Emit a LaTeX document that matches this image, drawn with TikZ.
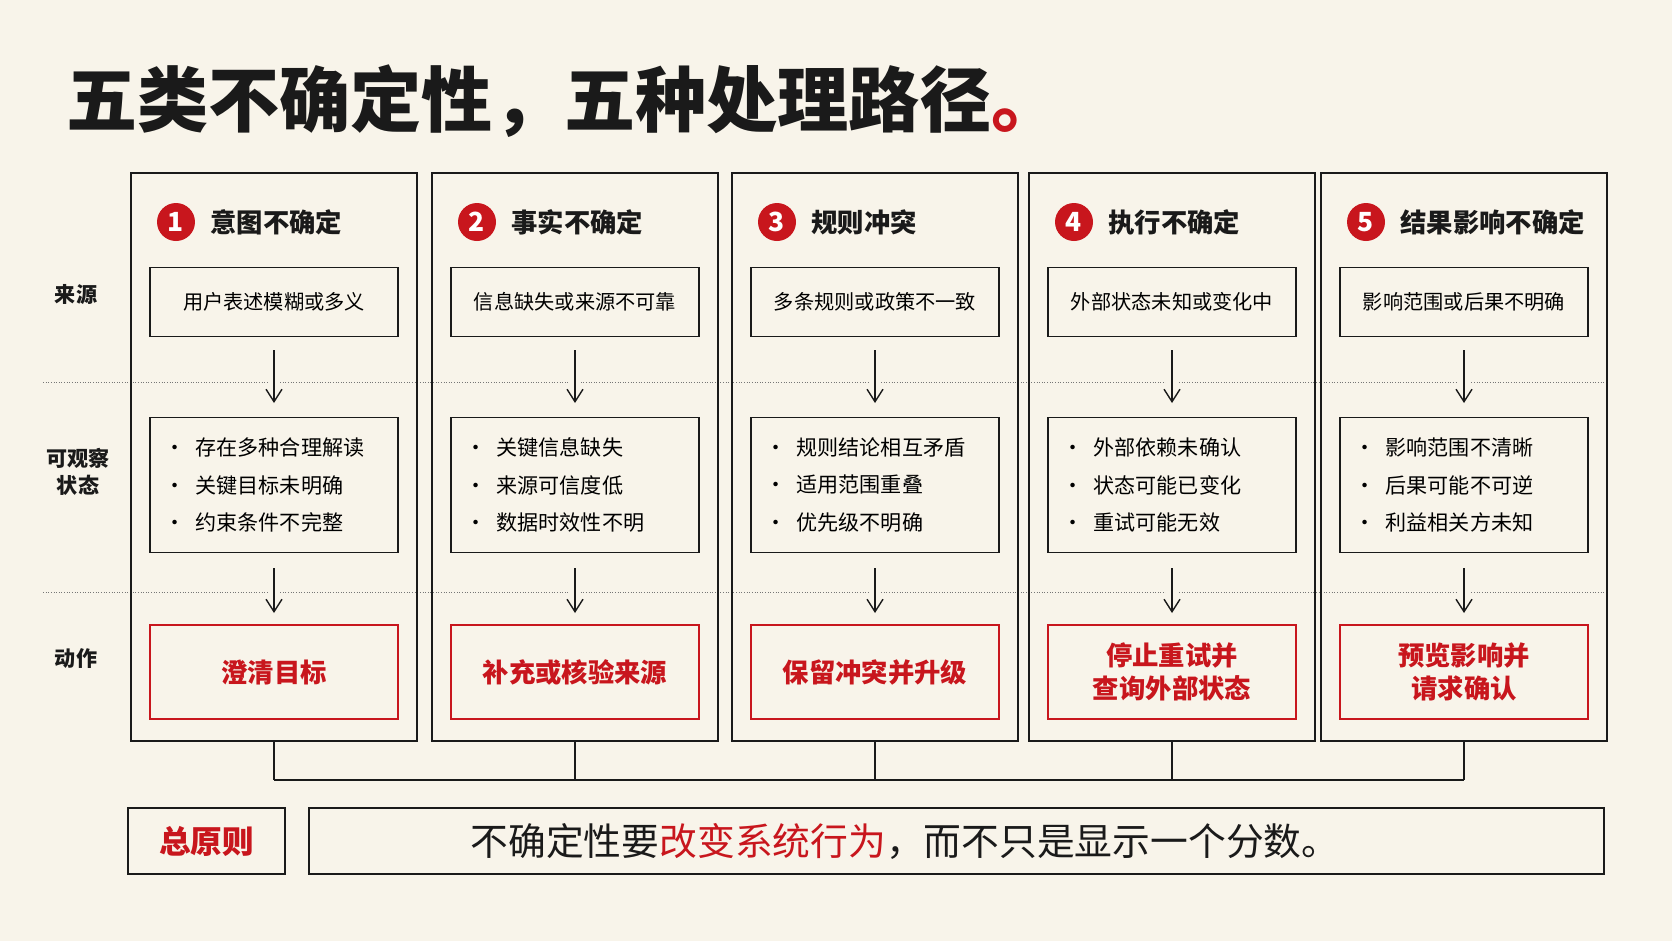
\documentclass[tikz,border=0pt]{standalone}
\usepackage{fontspec}
\setmainfont{Noto Sans CJK SC}
\usetikzlibrary{positioning,arrows.meta}
\definecolor{paper}{HTML}{F8F4EA}
\definecolor{seal}{HTML}{C8161D}
\definecolor{ink}{HTML}{1A1A1A}
\tikzset{
  col/.style={draw=ink, line width=0.9pt, minimum width=5.72cm, minimum height=11.36cm, inner sep=0pt},
  box/.style={draw=ink, line width=0.9pt, fill=paper, minimum width=4.96cm, inner sep=0pt, font=\fontsize{11.5}{14}\selectfont},
  actbox/.style={draw=seal, line width=1pt, fill=paper, minimum width=4.96cm, minimum height=1.88cm, inner sep=0pt, text=seal, align=center, font=\bfseries\fontsize{15}{19}\selectfont},
  num/.style={circle, fill=seal, text=white, minimum size=0.76cm, inner sep=0pt, font=\bfseries\fontsize{15}{15}\selectfont},
  head/.style={font=\bfseries\fontsize{15}{15}\selectfont, text=ink},
  rowlab/.style={font=\bfseries\fontsize{12}{15}\selectfont, align=center, text=ink},
  sep/.style={densely dotted, draw=ink!60, line width=0.5pt},
  flow/.style={-{Straight Barb[length=2.5mm,width=3.2mm]}, line width=0.8pt, draw=ink,
    preaction={draw=paper, line width=7pt, -}},
}
\newcommand{\bl}{\makebox[1.5em][l]{\textbullet}}
\begin{document}
\begin{tikzpicture}[x=0.02cm, y=-0.02cm]
  \fill[paper] (0,0) rectangle (1672,941);
  \useasboundingbox (0,0) rectangle (1672,941);

  % title
  \node[anchor=west, font=\bfseries\fontsize{40.5}{40.5}\selectfont, text=ink] (title) at (60,101) {五类不确定性，五种处理路径\textcolor{seal}{。}};

  % row separators
  \draw[sep] (43,382) -- (1604,382);
  \draw[sep] (43,592) -- (1604,592);

  % row labels
  \node[rowlab] (lsrc) at (76,294) {来源};
  \node[rowlab] (lobs) at (78,472) {可观察\\状态};
  \node[rowlab] (lact) at (76,659) {动作};

  % columns
  \foreach \i/\x/\h/\s/\ba/\bb/\bc/\act in {
    1/274/意图不确定/用户表述模糊或多义/存在多种合理解读/关键目标未明确/约束条件不完整/澄清目标,
    2/575/事实不确定/信息缺失或来源不可靠/关键信息缺失/来源可信度低/数据时效性不明/补充或核验来源,
    3/875/规则冲突/多条规则或政策不一致/规则结论相互矛盾/适用范围重叠/优先级不明确/保留冲突并升级,
    4/1172/执行不确定/外部状态未知或变化中/外部依赖未确认/状态可能已变化/重试可能无效/{停止重试并\\查询外部状态},
    5/1464/结果影响不确定/影响范围或后果不明确/影响范围不清晰/后果可能不可逆/利益相关方未知/{预览影响并\\请求确认}} {
    \node[col] (col\i) at (\x,457) {};
    \node[num] (num\i) at (\x-98,222) {\i};
    \node[head, right=0.18cm of num\i] (head\i) {\h};
    \node[box, minimum height=1.38cm] (src\i) at (\x,302) {\s};
    \node[box, minimum height=2.7cm, align=left, text width=4.4cm, font=\fontsize{12}{14}\selectfont] (obs\i) at (\x,485)
      {\bl\ba\\[0.26cm]\bl\bb\\[0.26cm]\bl\bc};
    \node[actbox] (act\i) at (\x,672) {\act};
    \coordinate (a\i) at (\x,350);
    \coordinate (b\i) at (\x,403);
    \coordinate (c\i) at (\x,568);
    \coordinate (d\i) at (\x,613);
    \draw[flow] (a\i) -- (b\i);
    \draw[flow] (c\i) -- (d\i);
    \coordinate (foot\i) at (\x,780);
    \draw[line width=0.9pt, draw=ink] (col\i.south) -- (foot\i);
  }
  \draw[line width=0.9pt, draw=ink] (foot1) -- (foot5);

  % principle
  \node[draw=ink, line width=1pt, fill=paper, minimum width=3.14cm, minimum height=1.32cm, inner sep=0pt,
        text=seal, font=\bfseries\fontsize{18}{18}\selectfont] (rule) at (206.5,841) {总原则};
  \node[draw=ink, line width=1pt, fill=paper, minimum width=25.9cm, minimum height=1.32cm, inner sep=0pt] (motto) at (956.5,841) {};
  \node[text=ink, font=\fontsize{21.5}{21.5}\selectfont] (mottotext) at (905,841)
        {不确定性要\textcolor{seal}{改变系统行为}，而不只是显示一个分数。};
\end{tikzpicture}
\end{document}
